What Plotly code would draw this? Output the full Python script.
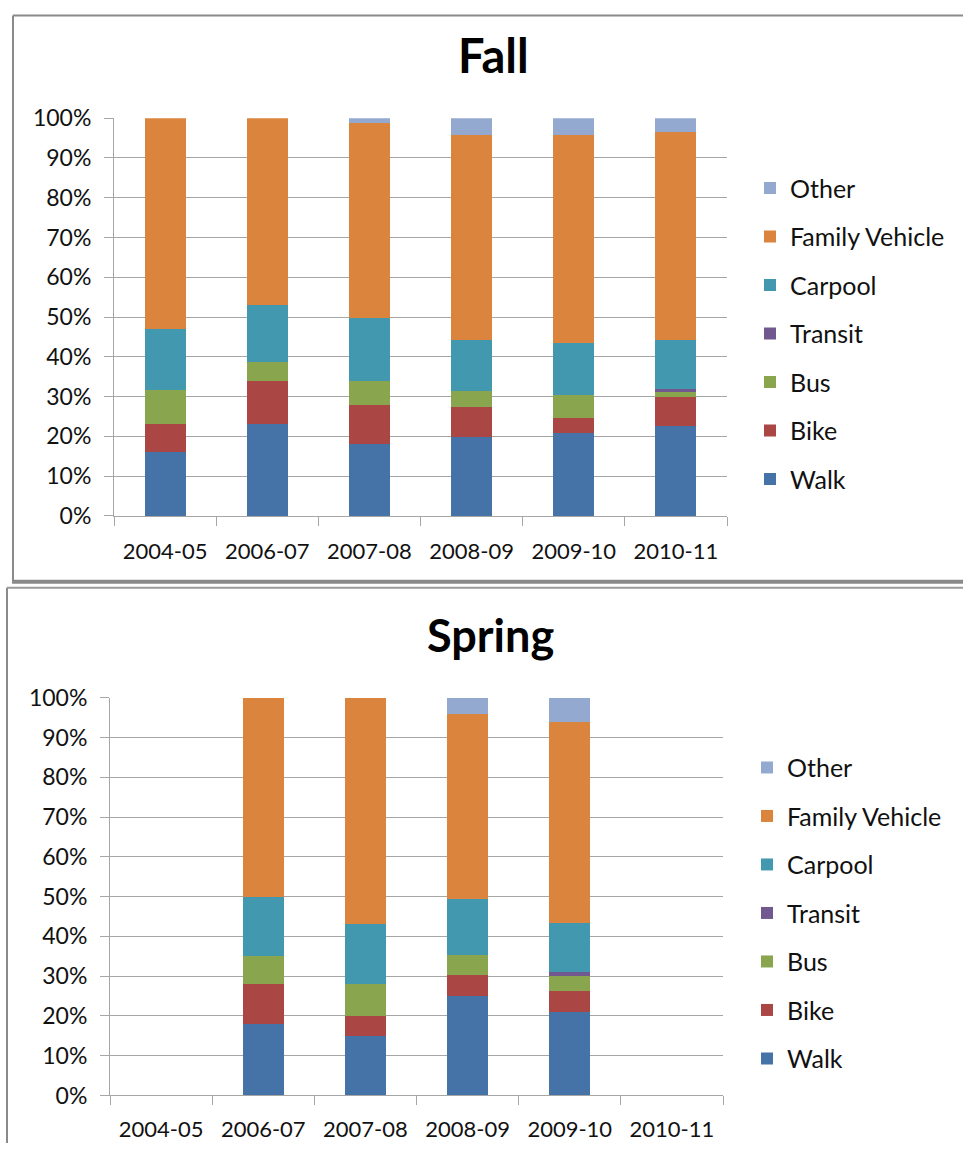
import plotly.graph_objects as go

categories = ["2004-05", "2006-07", "2007-08", "2008-09", "2009-10", "2010-11"]
modes = ["Walk", "Bike", "Bus", "Transit", "Carpool", "Family Vehicle", "Other"]
colors = ["#4572A7", "#AA4643", "#89A54E", "#71588F", "#4198AF", "#DB843D", "#93A9CF"]

# Fall (percent of trips)
fall_walk = [16, 23, 18, 19.8, 20.8, 22.7]
fall_bike = [7, 11, 10, 7.7, 3.9, 7.2]
fall_bus = [8.7, 4.8, 6, 3.9, 5.8, 1.2]
fall_transit = [0, 0, 0, 0, 0, 0.8]
fall_carpool = [15.2, 14.2, 15.7, 12.9, 12.9, 12.4]
fall_family = [53.1, 47, 49.1, 51.5, 52.4, 52.2]
fall_other = [0, 0, 1.2, 4.2, 4.2, 3.5]

# Spring (percent of trips)
spring_walk = [None, 18, 15, 25, 21, None]
spring_bike = [None, 10, 5, 5.4, 5.2, None]
spring_bus = [None, 7, 8, 4.9, 3.8, None]
spring_transit = [None, 0, 0, 0, 1.1, None]
spring_carpool = [None, 15, 15, 14.2, 12.2, None]
spring_family = [None, 50, 57, 46.3, 50.6, None]
spring_other = [None, 0, 0, 4.2, 6.1, None]

fall = [fall_walk, fall_bike, fall_bus, fall_transit, fall_carpool, fall_family, fall_other]
spring = [spring_walk, spring_bike, spring_bus, spring_transit, spring_carpool, spring_family, spring_other]

W, H = 963, 1156
FONT = "Lato"
# vertical correction observed between requested and photographed positions
VA, VB = 0.9765, 13.75


def px_x(x):
    return x / W


def px_y(y):
    fy = (y - VB) / VA
    return min(max(1 - fy / H, 0.0), 0.9995)


fig = go.Figure()
n = len(modes)
for i, (name, col, vals) in enumerate(zip(modes, colors, fall)):
    fig.add_trace(go.Bar(x=categories, y=vals, name=name, marker=dict(color=col, line=dict(width=0)),
                         xaxis="x", yaxis="y", legend="legend", legendgroup="f" + name,
                         legendrank=n - i))
for i, (name, col, vals) in enumerate(zip(modes, colors, spring)):
    fig.add_trace(go.Bar(x=categories, y=vals, name=name, marker=dict(color=col, line=dict(width=0)),
                         xaxis="x2", yaxis="y2", legend="legend2", legendgroup="s" + name,
                         legendrank=n - i))

grid = "#a6a6a6"
xcommon = dict(type="category", categoryorder="array", categoryarray=categories,
               showline=True, linecolor=grid, linewidth=1, showgrid=False,
               ticks="outside", tickson="boundaries", ticklen=9, tickcolor=grid,
               tickfont=dict(family=FONT, size=22, color="#111"),
               range=[-0.5, 5.5])
ycommon = dict(range=[0, 100], dtick=10, ticksuffix="%", showgrid=True, gridcolor=grid, gridwidth=1,
               showline=True, linecolor=grid, linewidth=1, ticks="outside", ticklen=9, tickcolor=grid,
               zeroline=False, tickfont=dict(family=FONT, size=23, color="#111"), ticklabelstandoff=8)

legcommon = dict(font=dict(family=FONT, size=25, color="#111"), traceorder="grouped",
                 tracegroupgap=13, xanchor="left", yanchor="top", bgcolor="rgba(0,0,0,0)")

fig.update_layout(
    width=W, height=H, margin=dict(l=0, r=0, t=0, b=0),
    paper_bgcolor="white", plot_bgcolor="white",
    barmode="stack", bargap=0.6, hovermode=False,
    xaxis=dict(domain=[px_x(114), px_x(727)], anchor="y", ticklabelstandoff=16, **xcommon),
    yaxis=dict(domain=[px_y(515), px_y(117)], anchor="x", **ycommon),
    xaxis2=dict(domain=[px_x(110), px_x(723)], anchor="y2", ticklabelstandoff=14, **xcommon),
    yaxis2=dict(domain=[px_y(1095), px_y(697)], anchor="x2", **ycommon),
    legend=dict(x=px_x(750), y=px_y(164), **legcommon),
    legend2=dict(x=px_x(747), y=px_y(744), **legcommon),
    annotations=[
        dict(text="<b>Fall</b>", x=px_x(493), y=px_y(54), xref="paper", yref="paper",
             xanchor="center", yanchor="middle",
             showarrow=False, font=dict(family=FONT, size=47, color="#000")),
        dict(text="<b>Spring</b>", x=px_x(490), y=px_y(634), xref="paper", yref="paper",
             xanchor="center", yanchor="middle",
             showarrow=False, font=dict(family=FONT, size=45, color="#000")),
    ],
    shapes=[
        # top panel border
        dict(type="line", xref="paper", yref="paper", x0=px_x(13), x1=px_x(13), y0=px_y(6), y1=px_y(581),
             line=dict(color="#8a8a8a", width=2)),
        dict(type="line", xref="paper", yref="paper", x0=px_x(13), x1=1, y0=px_y(6), y1=px_y(6),
             line=dict(color="#8a8a8a", width=2)),
        dict(type="line", xref="paper", yref="paper", x0=px_x(12), x1=1, y0=px_y(581), y1=px_y(581),
             line=dict(color="#8a8a8a", width=4)),
        # bottom panel border
        dict(type="line", xref="paper", yref="paper", x0=px_x(7), x1=px_x(7), y0=px_y(587), y1=0,
             line=dict(color="#8a8a8a", width=2)),
        dict(type="line", xref="paper", yref="paper", x0=px_x(7), x1=1, y0=px_y(587), y1=px_y(587),
             line=dict(color="#9a9a9a", width=2)),
    ],
)

fig.write_html("out.html", config={"displayModeBar": False, "staticPlot": True},
               post_script="document.body.style.margin='0';")
